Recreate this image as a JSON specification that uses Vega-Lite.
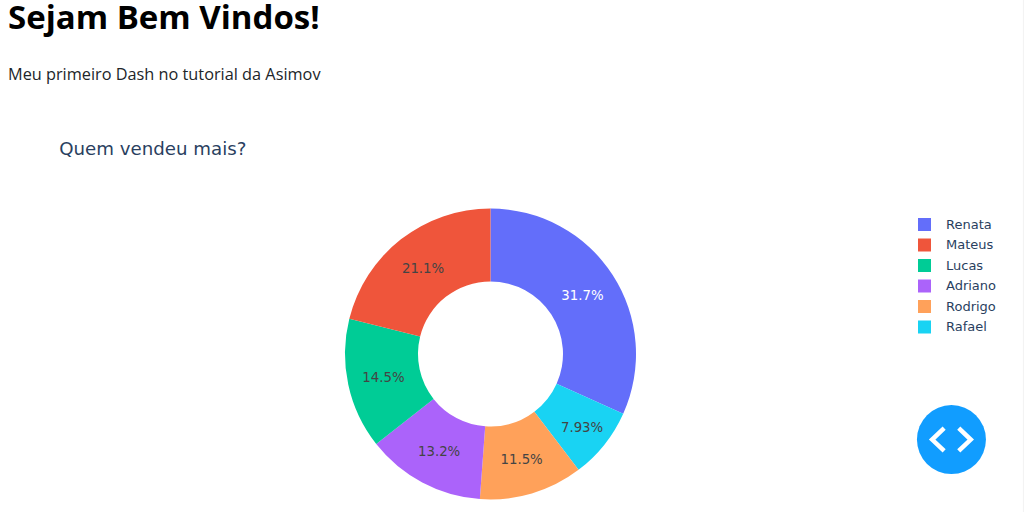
{
"$schema":"https://vega.github.io/schema/vega-lite/v6.json",
"width":291,"height":290,
"autosize":{"type":"none"},
"padding":{"left":345,"top":209,"right":388,"bottom":13},
"background":"white",
"config":{"view":{"stroke":null}},
"title":{"text":"Sejam Bem Vindos!","subtitle":"Meu primeiro Dash no tutorial da Asimov","anchor":"start","frame":"group","dx":-337,"offset":-87,"font":"Open Sans","fontSize":33,"fontWeight":"bold","color":"#000000","subtitleFont":"Open Sans","subtitleFontSize":16.3,"subtitleColor":"#212529","subtitlePadding":31},
"data":{"values":[
{"vendedor":"Renata","parte":0.317,"ordem":1},
{"vendedor":"Rafael","parte":0.0793,"ordem":2},
{"vendedor":"Rodrigo","parte":0.115,"ordem":3},
{"vendedor":"Adriano","parte":0.132,"ordem":4},
{"vendedor":"Lucas","parte":0.145,"ordem":5},
{"vendedor":"Mateus","parte":0.211,"ordem":6}
]},
"layer":[
{"mark":{"type":"arc","outerRadius":145.5,"innerRadius":72.5},
"encoding":{"theta":{"field":"parte","type":"quantitative","stack":true},
"order":{"field":"ordem","type":"quantitative"},
"color":{"field":"vendedor","type":"nominal","scale":{"domain":["Renata","Mateus","Lucas","Adriano","Rodrigo","Rafael"],"range":["#636EFA","#EF553B","#00CC96","#AB63FA","#FFA15A","#19D3F3"]},
"legend":{"title":null,"orient":"none","legendX":573,"legendY":9,"symbolType":"square","symbolSize":169,"symbolStrokeWidth":0,"labelFont":"DejaVu Sans","labelFontSize":13,"labelColor":"#2a3f5f","rowPadding":6.5,"labelOffset":15,"padding":0}}}},
{"mark":{"type":"text","radius":{"expr":"datum.parte<0.1?117:109.5"},"font":"DejaVu Sans","fontSize":13.3,"dy":1},
"encoding":{"theta":{"field":"parte","type":"quantitative","stack":true},
"order":{"field":"ordem","type":"quantitative"},
"detail":{"field":"vendedor"},
"text":{"field":"parte","type":"quantitative","format":".3~p"},
"color":{"condition":{"test":"datum.parte>0.3","value":"#ffffff"},"value":"#444444"}}},
{"data":{"values":[{"texto":"Quem vendeu mais?"}]},
"mark":{"type":"text","align":"left","baseline":"middle","font":"DejaVu Sans","fontSize":18.2,"color":"#2a3f5f"},
"encoding":{"text":{"field":"texto"},
"x":{"datum":-0.982,"type":"quantitative","scale":{"domain":[0,1],"zero":false,"nice":false},"axis":null},
"y":{"datum":-0.204,"type":"quantitative","scale":{"domain":[0,1],"zero":false,"nice":false,"reverse":true},"axis":null}}},
{"data":{"values":[{"item":"botao"}]},
"mark":{"type":"point","shape":"circle","filled":true,"size":4761,"color":"#119DFF","opacity":1},
"encoding":{
"x":{"datum":2.084,"type":"quantitative","scale":{"domain":[0,1],"zero":false,"nice":false},"axis":null},
"y":{"datum":0.795,"type":"quantitative","scale":{"domain":[0,1],"zero":false,"nice":false,"reverse":true},"axis":null}}},
{"data":{"values":[{"item":"icone"}]},
"mark":{"type":"point","shape":"M -0.36,-0.56 L -0.95,0 L -0.36,0.56 M 0.36,-0.56 L 0.95,0 L 0.36,0.56","filled":false,"size":1650,"color":"#ffffff","strokeWidth":4.5,"opacity":1},
"encoding":{
"x":{"datum":2.084,"type":"quantitative","scale":{"domain":[0,1],"zero":false,"nice":false},"axis":null},
"y":{"datum":0.795,"type":"quantitative","scale":{"domain":[0,1],"zero":false,"nice":false,"reverse":true},"axis":null}}},
{"data":{"values":[{"item":"borda"}]},
"mark":{"type":"rule","color":"#f3f3f3","strokeWidth":2},
"encoding":{
"x":{"datum":2.333,"type":"quantitative","scale":{"domain":[0,1],"zero":false,"nice":false},"axis":null},
"y":{"datum":-0.73,"type":"quantitative","scale":{"domain":[0,1],"zero":false,"nice":false,"reverse":true},"axis":null},
"y2":{"datum":1.05}}}
]
}
